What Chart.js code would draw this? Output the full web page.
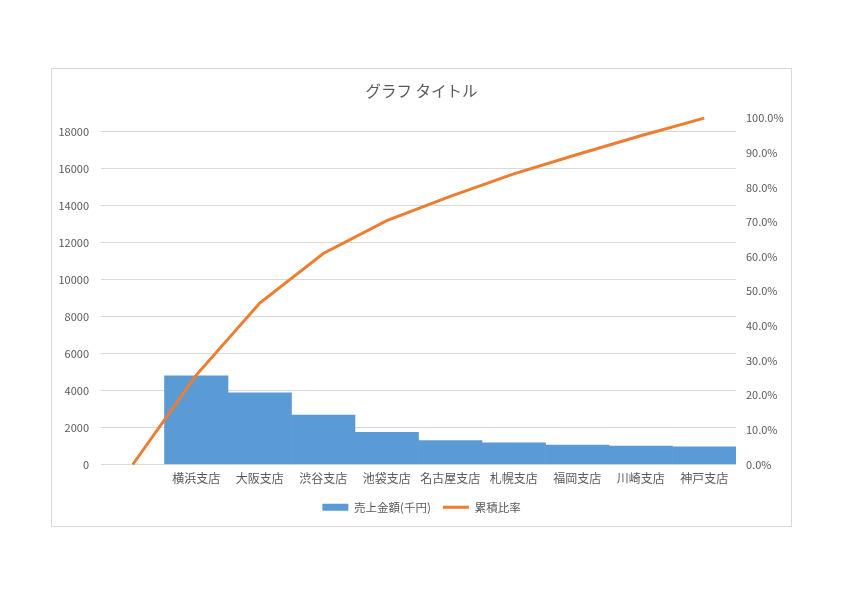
<!DOCTYPE html>
<html lang="ja">
<head>
  <meta charset="UTF-8" />
  <title>グラフ タイトル</title>
  <script src="https://cdn.jsdelivr.net/npm/chart.js"></script>
  <style>
    body { margin: 0; background: #fff; width: 842px; height: 595px; position: relative; }
    #frame { position: absolute; left: 51px; top: 68px; width: 739px; height: 457px; border: 1px solid #d9d9d9; background: #fff; }
    canvas { display: block; }
  </style>
</head>
<body>

<div id="frame"><canvas id="grafPareto"></canvas></div>

<script>
  // valores
  const categorias = ['', '横浜支店', '大阪支店', '渋谷支店', '池袋支店', '名古屋支店', '札幌支店', '福岡支店', '川崎支店', '神戸支店'];
  const vendas = [null, 4800, 3880, 2680, 1740, 1290, 1170, 1050, 1000, 950];
  const acumulado = [0, 25.8, 46.6, 60.9, 70.4, 77.4, 83.9, 89.5, 94.9, 100];
  const ticksEsquerdo = [0, 2000, 4000, 6000, 8000, 10000, 12000, 14000, 16000, 18000];
  const maxEsquerdo = 18740;
  const passoDireito = 10;

  const fonte = '"Noto Sans CJK JP", "Noto Sans", sans-serif';
  const cinza = '#595959';

  new Chart(document.getElementById('grafPareto').getContext('2d'), {
    type: 'bar',
    data: {
      labels: categorias,
      datasets: [
        {
          label: '売上金額(千円)',
          data: vendas,
          backgroundColor: '#5B9BD5',
          borderWidth: 0,
          categoryPercentage: 1,
          barPercentage: 1,
          yAxisID: 'y',
          pointStyle: 'rect',
          order: 2
        },
        {
          type: 'line',
          label: '累積比率',
          data: acumulado,
          borderColor: '#ED7D31',
          backgroundColor: '#ED7D31',
          borderWidth: 3,
          pointRadius: 0,
          tension: 0,
          clip: false,
          yAxisID: 'y1',
          pointStyle: 'line',
          order: 1
        }
      ]
    },
    options: {
      responsive: true,
      maintainAspectRatio: false,
      animation: false,
      layout: { padding: { left: 0, right: 0, top: 0, bottom: 3 } },
      plugins: {
        title: {
          display: true,
          text: 'グラフ タイトル',
          color: cinza,
          font: { family: fonte, size: 15.5, weight: 'normal' },
          padding: { top: 13, bottom: 17.5 }
        },
        legend: {
          position: 'bottom',
          labels: {
            usePointStyle: true,
            pointStyleWidth: 26,
            boxHeight: 7,
            color: cinza,
            font: { family: fonte, size: 11.5 },
            padding: 12,
            sort: (a, b) => a.datasetIndex - b.datasetIndex
          }
        },
        tooltip: { enabled: false }
      },
      scales: {
        x: {
          grid: { display: false, drawTicks: false },
          border: { display: false },
          ticks: { color: cinza, font: { family: fonte, size: 12 }, autoSkip: false, maxRotation: 0, padding: 7 },
          afterFit: s => { s.height = 25; }
        },
        y: {
          position: 'left',
          min: 0,
          max: maxEsquerdo,
          grid: { color: '#d9d9d9', drawTicks: false },
          border: { display: false },
          ticks: { color: cinza, font: { family: fonte, size: 11 }, padding: 12, callback: v => String(v) },
          afterBuildTicks: s => { s.ticks = ticksEsquerdo.map(v => ({ value: v })); },
          afterFit: s => { s.width = 49; }
        },
        y1: {
          position: 'right',
          min: 0,
          max: 100,
          grid: { display: false, drawTicks: false },
          border: { display: false },
          ticks: {
            stepSize: passoDireito,
            color: cinza,
            font: { family: fonte, size: 11 },
            padding: 10,
            callback: v => v.toFixed(1) + '%'
          },
          afterFit: s => { s.width = 55; }
        }
      }
    }
  });
</script>

</body>
</html>
